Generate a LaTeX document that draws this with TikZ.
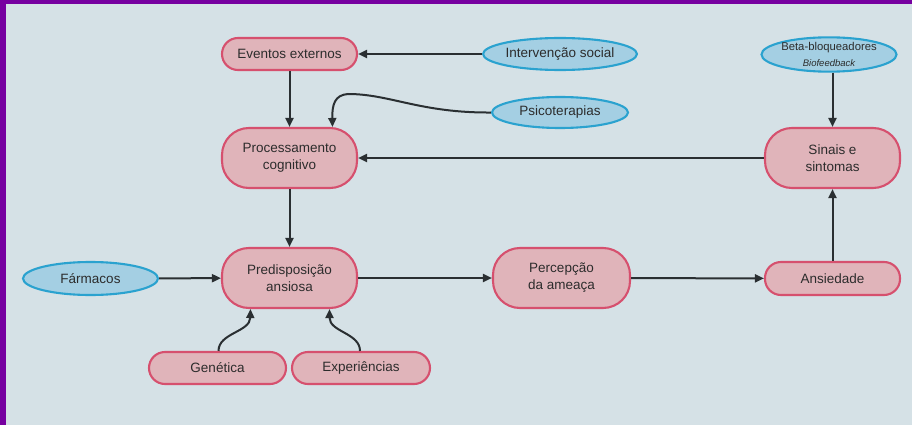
\documentclass[tikz,border=0pt]{standalone}
\usepackage{fontspec}
\setmainfont{Liberation Sans}
\usetikzlibrary{arrows.meta,shapes.geometric}
\definecolor{bgc}{HTML}{D5E1E6}
\definecolor{framec}{HTML}{7600A0}
\definecolor{pinkfill}{HTML}{E0B4BA}
\definecolor{pinkdraw}{HTML}{D6506E}
\definecolor{bluefill}{HTML}{A4CFE3}
\definecolor{bluedraw}{HTML}{2AA2CF}
\definecolor{txt}{HTML}{2C2C2C}
\definecolor{linec}{HTML}{2A2F32}
\tikzset{
  base/.style={inner sep=0pt, align=center, text=txt, line width=2.1pt,
    font=\fontsize{13.5}{17}\selectfont},
  pill/.style={base, draw=pinkdraw, fill=pinkfill, rectangle, rounded corners=#1},
  pill/.default=16pt,
  oval/.style={base, draw=bluedraw, fill=bluefill, ellipse},
  conn/.style={draw=linec, line width=2pt, -{Triangle[length=9pt,width=8pt]}},
}
\begin{document}
\begin{tikzpicture}[x=1pt,y=-1pt]
\useasboundingbox (0,0) rectangle (912,425);
\fill[framec] (0,0) rectangle (912,425);
\fill[bgc] (6,4) rectangle (912,425);

\node[pill, minimum width=135pt, minimum height=32pt] (eve) at (289.5,54) {Eventos externos};
\node[oval, minimum width=128pt, minimum height=32pt] (int) at (560,54) {Intervenção social};
\node[oval, minimum width=128pt, minimum height=32pt] (beta) at (829,54.5)
  {{\fontsize{11.3}{12}\selectfont Beta-bloqueadores}\\[-1pt]{\fontsize{9.5}{10}\selectfont\itshape Biofeedback}};
\node[oval, minimum width=136pt, minimum height=31pt] (psi) at (560,112.5) {Psicoterapias};
\node[pill=27pt, minimum width=135pt, minimum height=60pt] (proc) at (289.5,158) {Processamento\\cognitivo};
\node[pill=27pt, minimum width=135pt, minimum height=60pt] (sin) at (832.5,158) {Sinais e\\sintomas};
\node[oval, minimum width=135pt, minimum height=33pt] (far) at (90.5,278.5) {Fármacos};
\node[pill=27pt, minimum width=135pt, minimum height=60pt] (pre) at (289.5,278) {Predisposição\\ansiosa};
\node[pill=27pt, minimum width=137pt, minimum height=60pt] (per) at (561.5,278) {Percepção\\da ameaça};
\node[pill, minimum width=135pt, minimum height=33pt] (ans) at (832.5,278.5) {Ansiedade};
\node[pill, minimum width=137pt, minimum height=32pt] (gen) at (217.5,368) {Genética};
\node[pill, minimum width=138pt, minimum height=32pt] (exp) at (361,368) {Experiências};

\coordinate (psitip) at ([xshift=43pt]proc.north);
\coordinate (gentip) at ([xshift=-39pt]pre.south);
\coordinate (exptip) at ([xshift=40pt]pre.south);

\draw[conn] (int) -- (eve);
\draw[conn] (eve) -- (proc);
\draw[conn] (psi.west) .. controls (420,113) and (390,94) .. (348,94)
  .. controls (335,95) and (332,104) .. (psitip);
\draw[conn] (sin) -- (proc);
\draw[conn] (beta.south -| sin.north) -- (sin.north);
\draw[conn] (proc) -- (pre);
\draw[conn] (far) -- (pre);
\draw[conn] (pre) -- (per);
\draw[conn] (per) -- (ans);
\draw[conn] (ans) -- (sin);
\draw[conn] ([xshift=1pt]gen.north) .. controls ++(0,-18) and (250,332) .. (gentip);
\draw[conn] ([xshift=-1pt]exp.north) .. controls ++(0,-18) and (329.5,332) .. (exptip);
\end{tikzpicture}
\end{document}
